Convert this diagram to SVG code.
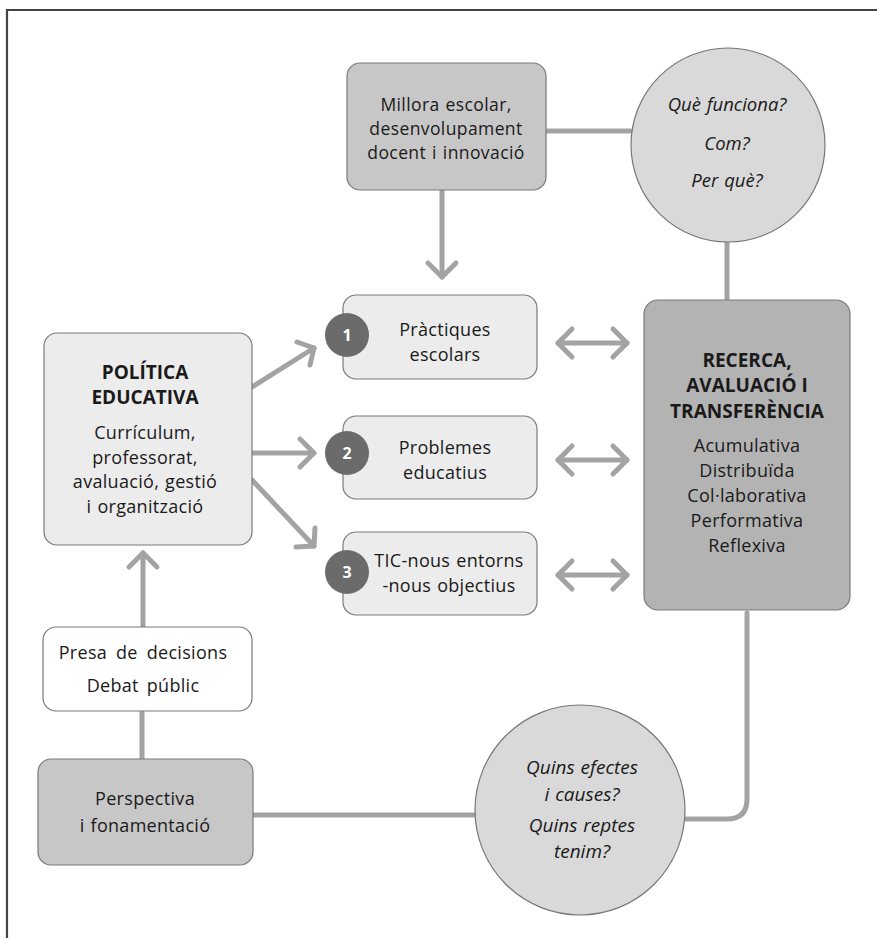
<svg xmlns="http://www.w3.org/2000/svg" width="877" height="938" viewBox="0 0 877 938">
  <style>
    text { font-family: "Open Sans", "Noto Sans", "Liberation Sans", sans-serif; font-size: 18px; letter-spacing: 0.3px; fill: #1a1a1a; text-anchor: middle; word-spacing: 1px; }
    .b { font-weight: bold; font-size: 19px; letter-spacing: 0; word-spacing: 0; }
    .i { font-style: italic; letter-spacing: 0; }
    .num { font-weight: bold; font-size: 16px; fill: #ffffff; letter-spacing: 0; }
    .box { stroke: #7a7a7a; stroke-width: 1.2; }
    .light { fill: #ececec; }
    .mid { fill: #c7c7c7; }
    .dark { fill: #b3b3b3; }
    .white { fill: #ffffff; }
    .q { fill: #d9d9d9; stroke: #777777; stroke-width: 1.2; }
    .badge { fill: #6b6b6b; }
    .line { fill: none; stroke: #a3a3a3; stroke-width: 5; stroke-linecap: round; stroke-linejoin: round; }
  </style>

  <!-- page frame -->
  <path d="M7 938 V10 H877" fill="none" stroke="#444444" stroke-width="2.2"/>

  <g id="connectors">
    <!-- Millora box to question circle -->
    <line class="line" x1="546" y1="131" x2="630" y2="131"/>
    <!-- question circle to research box -->
    <line class="line" x1="727" y1="242" x2="727" y2="300"/>
    <!-- Millora box down to practices -->
    <line class="line" x1="442" y1="190" x2="442" y2="277"/>
    <polyline class="line" points="428,263 442,277 456,263"/>
    <!-- policy to 1 -->
    <line class="line" x1="252" y1="387" x2="314" y2="348"/>
    <polyline class="line" points="297,342 314,348 310,365"/>
    <!-- policy to 2 -->
    <line class="line" x1="252" y1="453" x2="314" y2="453"/>
    <polyline class="line" points="300,439 314,453 300,467"/>
    <!-- policy to 3 -->
    <line class="line" x1="252" y1="480" x2="314" y2="546"/>
    <polyline class="line" points="296,547 314,546 315,528"/>
    <!-- double arrows to research -->
    <line class="line" x1="558" y1="343" x2="627" y2="343"/>
    <polyline class="line" points="572,329 558,343 572,357"/>
    <polyline class="line" points="613,329 627,343 613,357"/>
    <line class="line" x1="558" y1="460" x2="627" y2="460"/>
    <polyline class="line" points="572,446 558,460 572,474"/>
    <polyline class="line" points="613,446 627,460 613,474"/>
    <line class="line" x1="558" y1="575" x2="627" y2="575"/>
    <polyline class="line" points="572,561 558,575 572,589"/>
    <polyline class="line" points="613,561 627,575 613,589"/>
    <!-- decisions up to policy -->
    <line class="line" x1="143" y1="627" x2="143" y2="553"/>
    <polyline class="line" points="129,567 143,553 157,567"/>
    <!-- decisions to perspective -->
    <line class="line" x1="142" y1="711" x2="142" y2="759"/>
    <!-- perspective to bottom circle -->
    <line class="line" x1="253" y1="815" x2="475" y2="815"/>
    <!-- bottom circle to research -->
    <path class="line" d="M685 819 H727 Q747 819 747 799 V613"/>
  </g>

  <g id="millora">
    <rect class="box mid" x="347" y="63" width="199" height="127" rx="13"/>
    <text x="446" y="111" style="font-size:17.5px;letter-spacing:0.4px">Millora escolar,</text>
    <text x="446" y="135" style="font-size:17.5px;letter-spacing:0.4px">desenvolupament</text>
    <text x="446" y="159" style="font-size:17.5px;letter-spacing:0.4px">docent i innovació</text>
  </g>

  <g id="q-top">
    <circle class="q" cx="728" cy="145" r="97"/>
    <text class="i" x="727" y="111" style="font-size:18.5px">Què funciona?</text>
    <text class="i" x="727" y="150" style="font-size:18.5px">Com?</text>
    <text class="i" x="727" y="187" style="font-size:18.5px">Per què?</text>
  </g>

  <g id="politica">
    <rect class="box light" x="44" y="333" width="208" height="212" rx="13"/>
    <text class="b" x="145" y="379">POLÍTICA</text>
    <text class="b" x="145" y="404">EDUCATIVA</text>
    <text x="145" y="439">Currículum,</text>
    <text x="145" y="463.5">professorat,</text>
    <text x="145" y="488">avaluació, gestió</text>
    <text x="145" y="512.5">i organització</text>
  </g>

  <g id="practiques">
    <rect class="box light" x="343" y="295" width="194" height="84" rx="13"/>
    <circle class="badge" cx="347" cy="335" r="22"/>
    <text class="num" x="347" y="341">1</text>
    <text x="445" y="336">Pràctiques</text>
    <text x="445" y="361">escolars</text>
  </g>

  <g id="problemes">
    <rect class="box light" x="343" y="416" width="194" height="83" rx="13"/>
    <circle class="badge" cx="347" cy="453" r="22"/>
    <text class="num" x="347" y="459">2</text>
    <text x="445" y="454">Problemes</text>
    <text x="445" y="479">educatius</text>
  </g>

  <g id="tic">
    <rect class="box light" x="343" y="532" width="194" height="83" rx="13"/>
    <circle class="badge" cx="347" cy="572" r="22"/>
    <text class="num" x="347" y="578">3</text>
    <text x="449" y="567">TIC-nous entorns</text>
    <text x="449" y="592">-nous objectius</text>
  </g>

  <g id="recerca">
    <rect class="box dark" x="644" y="300" width="206" height="310" rx="14"/>
    <text class="b" x="747" y="366.5">RECERCA,</text>
    <text class="b" x="747" y="392">AVALUACIÓ I</text>
    <text class="b" x="747" y="417.5">TRANSFERÈNCIA</text>
    <text x="747" y="452">Acumulativa</text>
    <text x="747" y="477">Distribuïda</text>
    <text x="747" y="502">Col·laborativa</text>
    <text x="747" y="527">Performativa</text>
    <text x="747" y="552">Reflexiva</text>
  </g>

  <g id="decisions">
    <rect class="box white" x="43" y="627" width="209" height="84" rx="13"/>
    <text x="143" y="659" style="word-spacing:4px">Presa de decisions</text>
    <text x="143" y="692" style="word-spacing:3px">Debat públic</text>
  </g>

  <g id="perspectiva">
    <rect class="box mid" x="38" y="759" width="215" height="106" rx="13"/>
    <text x="145" y="805">Perspectiva</text>
    <text x="145" y="832">i fonamentació</text>
  </g>

  <g id="q-bottom">
    <circle class="q" cx="580" cy="810" r="105"/>
    <text class="i" x="582" y="774" style="font-size:19px">Quins efectes</text>
    <text class="i" x="582" y="801" style="font-size:19px">i causes?</text>
    <text class="i" x="582" y="832" style="font-size:19px">Quins reptes</text>
    <text class="i" x="582" y="858" style="font-size:19px">tenim?</text>
  </g>
</svg>
